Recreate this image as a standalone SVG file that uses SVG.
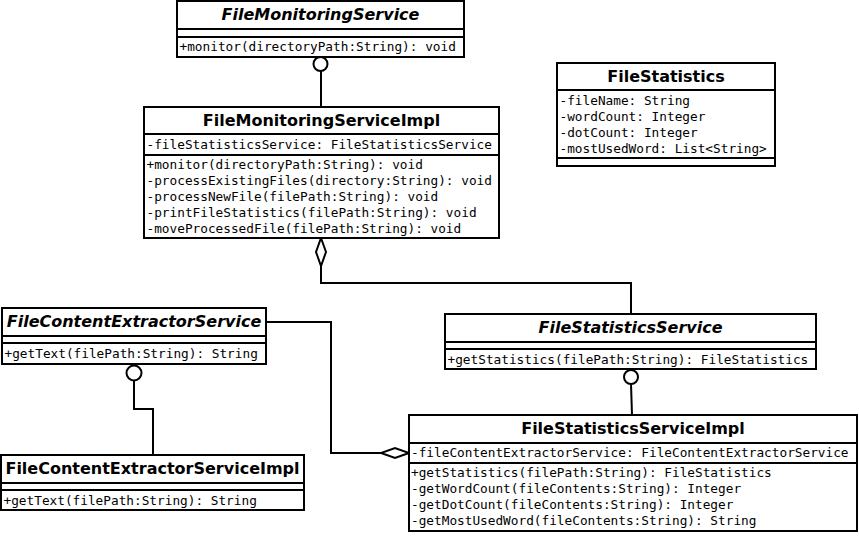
<svg xmlns="http://www.w3.org/2000/svg" width="859" height="559" viewBox="0 0 859 559">
<style>
.box{fill:#fff;stroke:#000;stroke-width:2}
.sep{stroke:#000;stroke-width:2}
.t{font-family:"DejaVu Sans",sans-serif;font-weight:bold;font-size:16px;text-anchor:middle;fill:#000}
.i{font-style:italic}
.m{font-family:"DejaVu Sans Mono",monospace;font-size:12.75px;fill:#000}
.c{fill:none;stroke:#000;stroke-width:2}
.lp{fill:#fff;stroke:#000;stroke-width:2}
</style>
<rect width="859" height="559" fill="#fff"/>
<g id="connectors">
<line class="c" x1="321" y1="71" x2="321" y2="107"/>
<circle class="lp" cx="320.5" cy="64" r="7"/>
<polyline class="c" points="321,266 321,283 631,283 631,314"/>
<polygon class="lp" points="321,238 326,252 321,266 316,252"/>
<line class="c" x1="631" y1="384" x2="632" y2="415"/>
<circle class="lp" cx="631" cy="377" r="7"/>
<polyline class="c" points="134,380 134,409 153,409 153,455"/>
<circle class="lp" cx="134" cy="373" r="7.5"/>
<polyline class="c" points="266,322 331,322 331,453 381,453"/>
<polygon class="lp" points="409,453 395,458 381,453 395,448"/>
</g>
<g id="FileMonitoringService">
<rect class="box" x="177" y="1" width="287" height="56"/>
<line class="sep" x1="177" y1="29" x2="464" y2="29"/>
<line class="sep" x1="177" y1="37" x2="464" y2="37"/>
<text class="t i" x="320.5" y="20">FileMonitoringService</text>
<text class="m" x="179.5" y="51">+monitor(directoryPath:String): void</text>
</g>
<g id="FileMonitoringServiceImpl">
<rect class="box" x="144" y="107" width="355" height="131"/>
<line class="sep" x1="144" y1="134" x2="499" y2="134"/>
<line class="sep" x1="144" y1="155" x2="499" y2="155"/>
<text class="t" x="321.5" y="126">FileMonitoringServiceImpl</text>
<text class="m" x="146.5" y="149">-fileStatisticsService: FileStatisticsService</text>
<text class="m" x="146.5" y="169">+monitor(directoryPath:String): void</text>
<text class="m" x="146.5" y="185">-processExistingFiles(directory:String): void</text>
<text class="m" x="146.5" y="201">-processNewFile(filePath:String): void</text>
<text class="m" x="146.5" y="217">-printFileStatistics(filePath:String): void</text>
<text class="m" x="146.5" y="233">-moveProcessedFile(filePath:String): void</text>
</g>
<g id="FileStatistics">
<rect class="box" x="557" y="63" width="218" height="103"/>
<line class="sep" x1="557" y1="90" x2="775" y2="90"/>
<line class="sep" x1="557" y1="158" x2="775" y2="158"/>
<text class="t" x="666" y="82">FileStatistics</text>
<text class="m" x="559.5" y="105">-fileName: String</text>
<text class="m" x="559.5" y="121">-wordCount: Integer</text>
<text class="m" x="559.5" y="137">-dotCount: Integer</text>
<text class="m" x="559.5" y="153">-mostUsedWord: List&lt;String&gt;</text>
</g>
<g id="FileContentExtractorService">
<rect class="box" x="2" y="308" width="264" height="56"/>
<line class="sep" x1="2" y1="336" x2="266" y2="336"/>
<line class="sep" x1="2" y1="343" x2="266" y2="343"/>
<text class="t i" x="134" y="327">FileContentExtractorService</text>
<text class="m" x="4.5" y="358">+getText(filePath:String): String</text>
</g>
<g id="FileStatisticsService">
<rect class="box" x="445" y="314" width="371" height="55"/>
<line class="sep" x1="445" y1="342" x2="816" y2="342"/>
<line class="sep" x1="445" y1="349" x2="816" y2="349"/>
<text class="t i" x="630.5" y="333">FileStatisticsService</text>
<text class="m" x="447.5" y="364">+getStatistics(filePath:String): FileStatistics</text>
</g>
<g id="FileContentExtractorServiceImpl">
<rect class="box" x="1" y="455" width="303" height="55"/>
<line class="sep" x1="1" y1="483" x2="304" y2="483"/>
<line class="sep" x1="1" y1="490" x2="304" y2="490"/>
<text class="t" x="152.5" y="474">FileContentExtractorServiceImpl</text>
<text class="m" x="3.5" y="505">+getText(filePath:String): String</text>
</g>
<g id="FileStatisticsServiceImpl">
<rect class="box" x="409" y="415" width="448" height="116"/>
<line class="sep" x1="409" y1="443" x2="857" y2="443"/>
<line class="sep" x1="409" y1="463" x2="857" y2="463"/>
<text class="t" x="633" y="434">FileStatisticsServiceImpl</text>
<text class="m" x="411" y="457">-fileContentExtractorService: FileContentExtractorService</text>
<text class="m" x="411" y="477">+getStatistics(filePath:String): FileStatistics</text>
<text class="m" x="411" y="493">-getWordCount(fileContents:String): Integer</text>
<text class="m" x="411" y="509">-getDotCount(fileContents:String): Integer</text>
<text class="m" x="411" y="525">-getMostUsedWord(fileContents:String): String</text>
</g>
</svg>
